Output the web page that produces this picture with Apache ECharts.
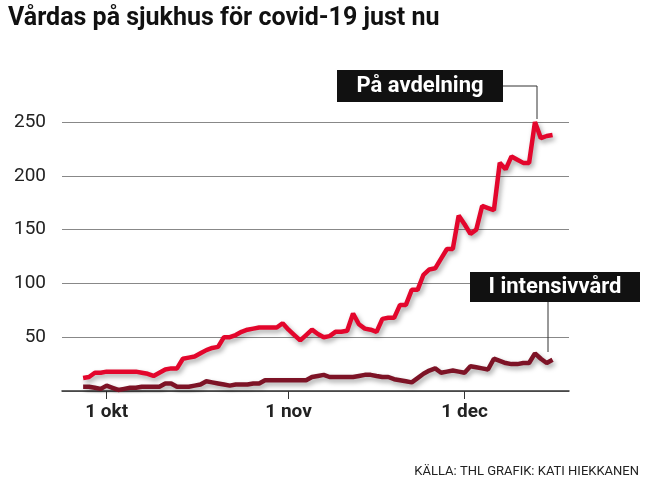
<!DOCTYPE html>
<html>
<head>
<meta charset="utf-8">
<script src="https://cdn.jsdelivr.net/npm/echarts@6/dist/echarts.min.js"></script>
<style>
html, body { margin: 0; padding: 0; background: #fff; }
#chart { width: 647px; height: 484px; }
</style>
</head>
<body>
<div id="chart"></div>
<script>
// day index 0 = 27 sep
var tickDays = [4, 35, 65];
var tickLabels = ['1 okt', '1 nov', '1 dec'];
var yTicks = [50, 100, 150, 200, 250];

var avdelning = [12,13,17,17,18,18,18,18,18,18,17,16,14,17,20,21,21,30,31,32,35,38,40,41,50,50,52,55,57,58,
    59,59,59,59,63,57,52,47,52,57,53,50,51,55,55,56,72,62,58,57,55,67,68,68,80,80,94,94,108,113,
    114,123,132,132,163,155,146,150,172,170,168,212,206,218,215,212,212,250,235,237,238];
var intensiv = [4,4,3,2,5,3,1,2,3,3,4,4,4,4,7,7,4,4,4,5,6,9,8,7,6,5,6,6,6,7,
    7,10,10,10,10,10,10,10,10,13,14,15,13,13,13,13,13,14,15,15,14,13,13,11,10,9,8,12,16,19,
    21,17,18,19,18,17,23,22,21,20,30,28,26,25,25,26,26,35,30,26,29];

function pairs(arr) {
    return arr.map(function (v, i) { return [i, v]; });
}

var font = 'Roboto';
var myChart = echarts.init(document.getElementById('chart'));

var shadow = { shadowBlur: 5, shadowColor: 'rgba(0,0,0,0.35)', shadowOffsetX: 2, shadowOffsetY: 3 };

var option = {
    animation: false,
    grid: { left: 62, right: 78, top: 122, bottom: 93 },
    xAxis: {
        type: 'value', min: -3.6, max: 82.8,
        splitLine: { show: false },
        axisLine: { lineStyle: { color: '#333', width: 1.5 } },
        axisTick: { customValues: tickDays, length: 8, lineStyle: { color: '#333' } },
        axisLabel: {
            customValues: tickDays,
            formatter: function (v) { return tickLabels[tickDays.indexOf(v)] || ''; },
            fontFamily: font, fontWeight: 'bold', fontSize: 19, color: '#222', margin: 12
        }
    },
    yAxis: {
        type: 'value', min: 0, max: 250, interval: 50,
        axisLine: { show: false }, axisTick: { show: false },
        splitLine: { lineStyle: { color: '#888', width: 1 } },
        axisLabel: {
            formatter: function (v) { return yTicks.indexOf(v) >= 0 ? String(v) : ''; },
            fontFamily: font, fontSize: 19, color: '#222', margin: 16
        }
    },
    series: [
        {
            type: 'line', data: pairs(avdelning), showSymbol: false,
            lineStyle: Object.assign({ color: '#e3062c', width: 4.5 }, shadow), z: 3
        },
        {
            type: 'line', data: pairs(intensiv), showSymbol: false,
            lineStyle: Object.assign({ color: '#7d1326', width: 4.5 }, shadow), z: 2
        }
    ],
    graphic: [
        { type: 'text', left: 8, top: 6, style: { text: 'Vårdas på sjukhus för covid-19 just nu', font: 'bold 25px Roboto', fill: '#111' } },
        { type: 'text', right: 8, top: 465, style: { text: 'KÄLLA: THL GRAFIK: KATI HIEKKANEN', font: '13px Roboto', fill: '#222' } },
        { type: 'polyline', shape: { points: [[503, 86], [537, 86], [537, 119]] }, style: { stroke: '#333', lineWidth: 1, fill: null }, z: 5 },
        { type: 'rect', shape: { x: 337, y: 70, width: 166, height: 32 }, style: { fill: '#111' }, z: 6 },
        { type: 'text', x: 420, y: 86, style: { text: 'På avdelning', font: 'bold 22px Roboto', fill: '#fff', align: 'center', verticalAlign: 'middle' }, z: 7 },
        { type: 'line', shape: { x1: 548, y1: 302, x2: 548, y2: 352 }, style: { stroke: '#333', lineWidth: 1 }, z: 5 },
        { type: 'rect', shape: { x: 470, y: 272, width: 170, height: 30 }, style: { fill: '#111' }, z: 6 },
        { type: 'text', x: 555, y: 287, style: { text: 'I intensivvård', font: 'bold 22px Roboto', fill: '#fff', align: 'center', verticalAlign: 'middle' }, z: 7 }
    ]
};

myChart.setOption(option);
</script>
</body>
</html>
